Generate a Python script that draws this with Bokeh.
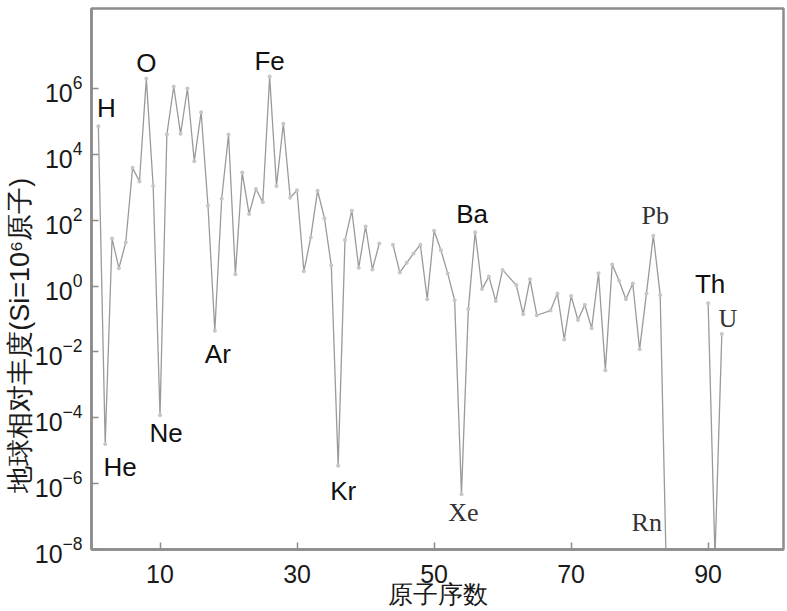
import math
from bokeh.plotting import figure
from bokeh.models import FixedTicker, ColumnDataSource, LogTickFormatter, Range1d
from bokeh.core.properties import value
from bokeh.embed import file_html
from bokeh.resources import INLINE

# ---- data ----
NaN = float("nan")
atomic_number = [1, 2, 3, 4, 5, 6, 7, 8, 9, 10,
                 11, 12, 13, 14, 15, 16, 17, 18, 19, 20,
                 21, 22, 23, 24, 25, 26, 27, 28, 29, 30,
                 31, 32, 33, 34, 35, 36, 37, 38, 39, 40,
                 41, 42, 43, 44, 45, 46, 47, 48, 49, 50,
                 51, 52, 53, 54, 55, 56, 57, 58, 59, 60,
                 62, 63, 64, 65, 67, 68, 69, 70, 71, 72,
                 73, 74, 75, 76, 77, 78, 79, 80, 81, 82,
                 83, 84, 85, 90, 91, 92]
abundance = [7.1e4, 1.6e-5, 28, 3.5, 21, 3.9e3, 1.5e3, 2.0e6, 1.1e3, 1.2e-4,
             4.0e4, 1.15e6, 4.2e4, 1.0e6, 6.2e3, 1.9e5, 2.8e2, 4.4e-2, 4.5e2, 4.0e4,
             2.3, 2.8e3, 1.55e2, 8.9e2, 3.5e2, 2.3e6, 1.1e3, 8.5e4, 4.8e2, 8.1e2,
             2.8, 30, 7.9e2, 1.15e2, 4.2, 3.5e-6, 25, 1.95e2, 3.6, 65,
             3.2, 19.5, NaN, 18, 2.6, 5.1, 9.8, 18, 0.40, 48,
             12.3, 2.4, 0.37, 4.8e-7, 0.20, 43, 0.81, 1.95, 0.35, 3.1,
             1.07, 0.14, 1.6, 0.13, 0.18, 0.60, 0.024, 0.50, 0.093, 0.27,
             0.052, 2.45, 2.8e-3, 4.5, 1.45, 0.40, 1.2, 0.012, 0.60, 34,
             0.54, 2.5e-10, NaN, 0.30, 6e-9, 0.035]

x_ticks = [10, 30, 50, 70, 90]
y_ticks = [1e-8, 1e-6, 1e-4, 1e-2, 1e0, 1e2, 1e4, 1e6]

x_title = "原子序数"
y_title = "地球相对丰度(Si=10⁶原子)"

label_text = ["H", "He", "O", "Ne", "Ar", "Fe", "Kr", "Ba", "Th", "Xe", "Pb", "Rn", "U"]
label_z = [1, 2, 8, 10, 18, 26, 36, 56, 90, 54, 82, 86, 92]

# ---- styles / placement ----
sans_count = 9  # first nine labels sans, rest serif
label_dx = [8, 15, 0, 6, 3, 0, 5, -3, 2, 2, 2, -34, 6]
label_dy = [-18, 23, -16, 18, 23, -16, 25, -18, -19, 18, -20, -27, -16]
y_title_pad = "\u00a0" * 15  # shifts the vertical title toward the bottom, as in the reference

Y_MIN, Y_MAX = 1e-8, 10 ** 8.43


def anchor_value(z):
    v = dict(zip(atomic_number, abundance)).get(z)
    if v is None or math.isnan(v):
        return Y_MIN
    return v


label_y = [anchor_value(z) for z in label_z]

p = figure(width=787, height=611,
           x_range=Range1d(0, 101), y_range=Range1d(Y_MIN, Y_MAX),
           y_axis_type="log", output_backend="svg", toolbar_location=None,
           min_border_left=91, min_border_right=4, min_border_top=8,
           min_border_bottom=62)
p.grid.visible = False
p.background_fill_color = "white"
p.border_fill_color = "white"
p.outline_line_color = "#8c8c8c"
p.outline_line_width = 2.5

axis_col = "#8c8c8c"
for ax in (p.xaxis[0], p.yaxis[0]):
    ax.axis_line_color = axis_col
    ax.axis_line_width = 2.5
    ax.major_tick_line_color = axis_col
    ax.major_tick_line_width = 1.5
    ax.major_tick_in = 7
    ax.major_tick_out = 0
    ax.minor_tick_line_color = None
    ax.major_label_text_font = "Liberation Sans"
    ax.major_label_text_font_size = "25px"
    ax.major_label_text_color = "#1a1a1a"
    ax.axis_label_text_font = "Liberation Sans"
    ax.axis_label_text_font_style = "normal"
    ax.axis_label_text_color = "#1a1a1a"

p.xaxis.ticker = FixedTicker(ticks=x_ticks)
p.xaxis.major_label_standoff = 15
p.xaxis.axis_label = x_title
p.xaxis.axis_label_text_font_size = "25px"
p.xaxis.axis_label_standoff = -6

p.yaxis.ticker = FixedTicker(ticks=y_ticks)
p.yaxis.formatter = LogTickFormatter()
p.yaxis.major_label_standoff = 9
p.yaxis.axis_label = y_title + y_title_pad
p.yaxis.axis_label_text_font_size = "27px"
p.yaxis.axis_label_standoff = -3

src = ColumnDataSource(dict(z=atomic_number, v=abundance))
p.line("z", "v", source=src, line_color="#9a9a9a", line_width=1.3)
p.scatter("z", "v", source=src, size=4, fill_color="#c6c6c6", line_color=None)

sans = ColumnDataSource(dict(x=label_z[:sans_count], y=label_y[:sans_count],
                             t=label_text[:sans_count],
                             dx=label_dx[:sans_count], dy=label_dy[:sans_count]))
serif = ColumnDataSource(dict(x=label_z[sans_count:], y=label_y[sans_count:],
                              t=label_text[sans_count:],
                              dx=label_dx[sans_count:], dy=label_dy[sans_count:]))
p.text("x", "y", text="t", x_offset="dx", y_offset="dy", source=sans,
       text_font=value("Liberation Sans"), text_font_size="26px",
       text_align="center", text_baseline="middle", text_color="#111111")
p.text("x", "y", text="t", x_offset="dx", y_offset="dy", source=serif,
       text_font=value("Liberation Serif"), text_font_size="26px",
       text_align="center", text_baseline="middle", text_color="#333333")

open("out.html", "w").write(file_html(p, INLINE))
